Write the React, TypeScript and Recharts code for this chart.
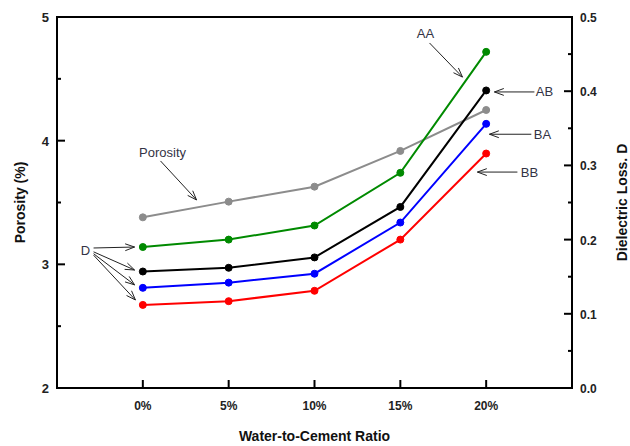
import React from "react";
import { LineChart, Line, XAxis, YAxis, ReferenceLine, ReferenceDot, ReferenceArea, Label } from "recharts";

const ratios = [0, 5, 10, 15, 20];
const porosity = [3.38, 3.507, 3.628, 3.917, 4.248];
const lossAA = [0.19, 0.2, 0.219, 0.29, 0.453];
const lossAB = [0.157, 0.162, 0.176, 0.244, 0.401];
const lossBA = [0.135, 0.142, 0.154, 0.223, 0.356];
const lossBB = [0.112, 0.117, 0.131, 0.2, 0.316];

const leftTicks = [2, 2.5, 3, 3.5, 4, 4.5, 5];
const rightTicks = [0, 0.05, 0.1, 0.15, 0.2, 0.25, 0.3, 0.35, 0.4, 0.45, 0.5];

// annotation text + arrows, in data units (x = ratio, y = dielectric loss)
const notes = [
  { text: "Porosity", x: 1.15, y: 0.318 },
  { text: "D", x: -3.34, y: 0.186 },
  { text: "AA", x: 16.46, y: 0.478 },
  { text: "AB", x: 23.4, y: 0.4 },
  { text: "BA", x: 23.28, y: 0.342 },
  { text: "BB", x: 22.52, y: 0.291 },
];
const arrows = [
  [1.03, 0.306, 3.13, 0.2534],
  [-2.87, 0.1887, -0.48, 0.19],
  [-2.87, 0.1835, -0.48, 0.159],
  [-2.87, 0.181, -0.48, 0.139],
  [-2.87, 0.179, -0.43, 0.1186],
  [16.7, 0.465, 18.62, 0.419],
  [22.81, 0.399, 20.48, 0.399],
  [22.63, 0.342, 20.19, 0.342],
  [21.82, 0.291, 19.49, 0.291],
];

const data = ratios.map((r, i) => ({
  r,
  porosity: porosity[i],
  AA: lossAA[i],
  AB: lossAB[i],
  BA: lossBA[i],
  BB: lossBB[i],
}));

const font = "'Liberation Sans', Arial, sans-serif";

const ArrowShape = (p: any) => {
  const { x1, y1, x2, y2 } = p;
  const a = Math.atan2(y2 - y1, x2 - x1);
  const len = 10;
  const spread = 0.35;
  const h1 = [x2 - len * Math.cos(a - spread), y2 - len * Math.sin(a - spread)];
  const h2 = [x2 - len * Math.cos(a + spread), y2 - len * Math.sin(a + spread)];
  return (
    <g stroke="#222" strokeWidth={1} fill="none">
      <line x1={x1} y1={y1} x2={x2} y2={y2} />
      <polyline points={`${h1[0]},${h1[1]} ${x2},${y2} ${h2[0]},${h2[1]}`} />
    </g>
  );
};

const XTick = (p: any) => {
  const { x, y, payload } = p;
  return (
    <g>
      <line x1={x} y1={y} x2={x} y2={y - 8} stroke="#000" strokeWidth={2} />
      <text x={x} y={y + 22} textAnchor="middle" fontFamily={font} fontWeight="bold" fontSize={12} fill="#222">
        {payload.value}%
      </text>
    </g>
  );
};

const LeftTick = (p: any) => {
  const { x, y, payload } = p;
  const major = Number.isInteger(payload.value);
  return (
    <g>
      <line x1={x} y1={y} x2={x + (major ? 8 : 4)} y2={y} stroke="#000" strokeWidth={2} />
      {major && (
        <text x={x - 8} y={y + 5} textAnchor="end" fontFamily={font} fontWeight="bold" fontSize={13} fill="#222">
          {payload.value}
        </text>
      )}
    </g>
  );
};

const RightTick = (p: any) => {
  const { x, y, payload } = p;
  const major = Math.abs(Math.round(payload.value * 10) - payload.value * 10) < 1e-6;
  return (
    <g>
      <line x1={x} y1={y} x2={x - (major ? 8 : 4)} y2={y} stroke="#000" strokeWidth={2} />
      {major && (
        <text x={x + 8} y={y + 5} fontFamily={font} fontWeight="bold" fontSize={12} fill="#222">
          {payload.value.toFixed(1)}
        </text>
      )}
    </g>
  );
};

const series = [
  { key: "AA", color: "#008a00" },
  { key: "AB", color: "#000000" },
  { key: "BA", color: "#0000ff" },
  { key: "BB", color: "#ff0000" },
];

export default function App() {
  return (
    <div style={{ width: 630, height: 446, background: "#fff" }}>
      <style>{"body{margin:0}"}</style>
      <LineChart width={630} height={446} data={data} margin={{ top: 17, right: 8, bottom: 0, left: 17 }}>
        <XAxis
          dataKey="r"
          type="number"
          domain={[-5, 25]}
          ticks={ratios}
          tickSize={0}
          tickMargin={0}
          tickLine={false}
          tick={<XTick />}
          axisLine={{ stroke: "#000", strokeWidth: 2 }}
          height={58}
        >
          <Label value="Water-to-Cement Ratio" position="center" dy={19} fontFamily={font} fontWeight="bold" fontSize={14} fill="#111" />
        </XAxis>
        <XAxis
          xAxisId="top"
          orientation="top"
          dataKey="r"
          type="number"
          domain={[-5, 25]}
          tick={false}
          tickLine={false}
          height={0}
          axisLine={{ stroke: "#000", strokeWidth: 2 }}
        />
        <YAxis
          yAxisId="left"
          domain={[2, 5]}
          ticks={leftTicks}
          interval={0}
          tickSize={0}
          tickMargin={0}
          tickLine={false}
          tick={<LeftTick />}
          axisLine={{ stroke: "#000", strokeWidth: 2 }}
          width={40}
        >
          <Label value="Porosity (%)" angle={-90} position="center" dx={-17} fontFamily={font} fontWeight="bold" fontSize={14} fill="#111" />
        </YAxis>
        <YAxis
          yAxisId="right"
          orientation="right"
          domain={[0, 0.5]}
          ticks={rightTicks}
          interval={0}
          tickSize={0}
          tickMargin={0}
          tickLine={false}
          tick={<RightTick />}
          axisLine={{ stroke: "#000", strokeWidth: 2 }}
          width={50}
        >
          <Label value="Dielectric Loss. D" angle={-90} position="center" dx={25} fontFamily={font} fontWeight="bold" fontSize={14} fill="#111" />
        </YAxis>
        <ReferenceArea
          yAxisId="right"
          x1={-5}
          x2={25}
          y1={0}
          y2={0.5}
          fill="none"
          fillOpacity={0}
          stroke="#000"
          strokeWidth={2}
          strokeOpacity={1}
          ifOverflow="visible"
        />

        <Line
          yAxisId="left"
          dataKey="porosity"
          stroke="#8c8c8c"
          strokeWidth={2}
          dot={{ r: 3.5, fill: "#8c8c8c", stroke: "#8c8c8c", strokeWidth: 1 }}
          isAnimationActive={false}
        />
        {series.map((s) => (
          <Line
            key={s.key}
            yAxisId="right"
            dataKey={s.key}
            stroke={s.color}
            strokeWidth={2}
            dot={{ r: 3.5, fill: s.color, stroke: s.color, strokeWidth: 1 }}
            isAnimationActive={false}
          />
        ))}

        {arrows.map((a, i) => (
          <ReferenceLine
            key={"a" + i}
            yAxisId="right"
            segment={[
              { x: a[0], y: a[1] },
              { x: a[2], y: a[3] },
            ]}
            shape={ArrowShape}
          />
        ))}
        {notes.map((n) => (
          <ReferenceDot key={n.text} yAxisId="right" x={n.x} y={n.y} r={0} fill="none" stroke="none">
            <Label value={n.text} position="center" fontFamily={font} fontSize={13} fill="#333344" />
          </ReferenceDot>
        ))}
      </LineChart>
    </div>
  );
}
